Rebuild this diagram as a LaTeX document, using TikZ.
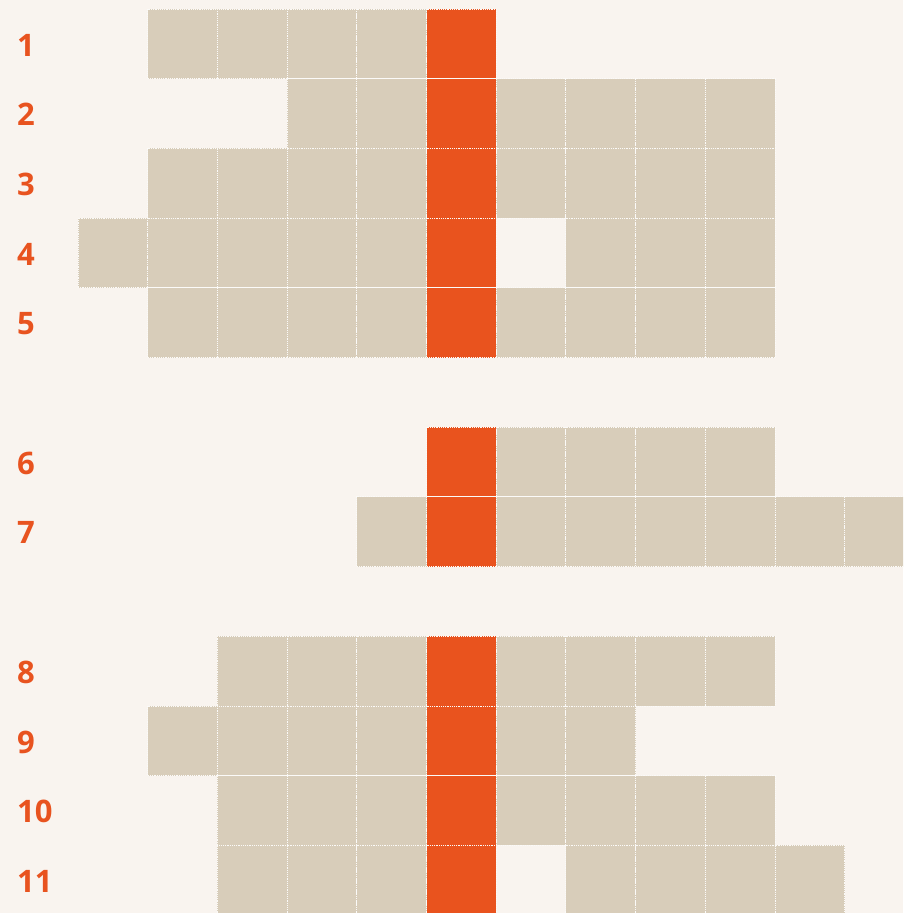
\documentclass[tikz,border=0pt]{standalone}
\usepackage{fontspec}
\setmainfont{Open Sans}
\definecolor{bgc}{HTML}{F9F4EF}
\definecolor{cellc}{HTML}{D8CDBA}
\definecolor{redc}{HTML}{E9531E}
\definecolor{numc}{HTML}{E8531F}
\begin{document}
\begin{tikzpicture}[x=1pt,y=-1pt,
  cell/.style={draw=white!90!cellc, dash pattern=on 1.2pt off 1pt, line width=1pt, fill=cellc, minimum width=69.7pt, minimum height=69.7pt, inner sep=0pt, outer sep=0pt, anchor=north west},
  redcell/.style={cell, fill=redc},
  num/.style={text=numc, font=\fontsize{31}{31}\selectfont\bfseries, anchor=west, inner sep=0pt}]
\useasboundingbox (0,0) rectangle (903,913);
\fill[bgc] (0,0) rectangle (903,913);
\clip (0,0) rectangle (903,913);
% row index k, list of beige columns
\foreach \lab/\k/\cols in {1/0/{1,2,3,4},2/1/{3,4,6,7,8,9},3/2/{1,2,3,4,6,7,8,9},4/3/{0,1,2,3,4,7,8,9},5/4/{1,2,3,4,6,7,8,9},6/6/{6,7,8,9},7/7/{4,6,7,8,9,10,11},8/9/{2,3,4,6,7,8,9},9/10/{1,2,3,4,6,7},10/11/{2,3,4,6,7,8,9},11/12/{2,3,4,7,8,9,10}}{
  \foreach \j in \cols {
    \node[cell] (c-\lab-\j) at ({78+69.7*\j},{9+69.7*\k}) {};
  }
  \node[redcell] (r-\lab) at ({78+69.7*5},{9+69.7*\k}) {};
  \node[num] (n-\lab) at (17,{9+69.7*\k+36}) {\lab};
}
\end{tikzpicture}
\end{document}
